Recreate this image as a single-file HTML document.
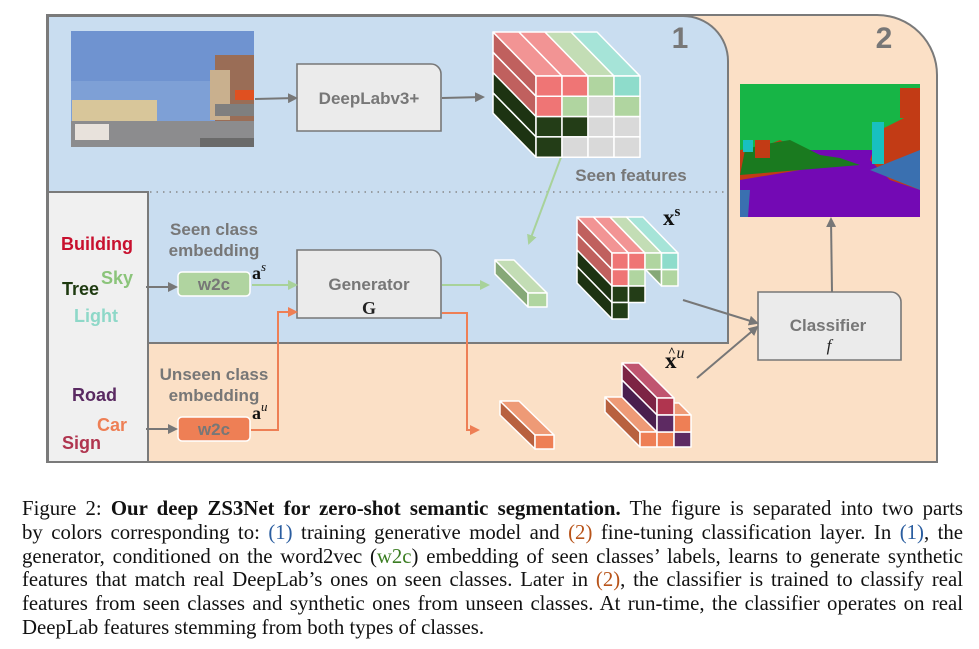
<!DOCTYPE html>
<html><head><meta charset="utf-8">
<style>
html,body{margin:0;padding:0;background:#fff;width:979px;height:649px;overflow:hidden}
#d{position:absolute;left:0;top:0}
.cap{position:absolute;left:22px;top:497px;width:941px;font-family:"Liberation Serif",serif;font-size:20.8px;color:#111;line-height:23.8px}
.cap div{text-align:justify;text-align-last:justify;white-space:nowrap;height:23.8px}
.cap div.last{text-align-last:left}
.b1{color:#2a5d9f}.b2{color:#b8541a}.g{color:#3b7d22}
</style></head><body>
<svg id="d" width="979" height="480" xmlns="http://www.w3.org/2000/svg" font-family="Liberation Sans, sans-serif">
<path d="M47,15 H877 A60,60 0 0 1 937,75 V462 H47 Z" fill="#fbe0c6" stroke="#7a7a7a" stroke-width="2"/>
<path d="M48,16 H683 A45,45 0 0 1 728,61 V343 H148 V192 H48 Z" fill="#c9ddf0" stroke="#7a7a7a" stroke-width="2"/>
<rect x="48" y="192" width="100" height="270" fill="#f0f0f0" stroke="#7a7a7a" stroke-width="2"/>
<line x1="150" y1="192" x2="727" y2="192" stroke="#888" stroke-width="1.6" stroke-dasharray="1.5,5"/>
<text x="680" y="48" font-size="30" font-weight="bold" fill="#777" text-anchor="middle">1</text>
<text x="884" y="48" font-size="30" font-weight="bold" fill="#777" text-anchor="middle">2</text>
<g>
<rect x="71" y="31" width="183" height="116" fill="#7ea0d6"/>
<rect x="71" y="31" width="183" height="50" fill="#6f93d0"/>
<rect x="72" y="100" width="85" height="22" fill="#d8c69a"/>
<rect x="215" y="55" width="39" height="72" fill="#9a6d56"/>
<rect x="210" y="70" width="20" height="50" fill="#c9b08e"/>
<rect x="235" y="90" width="19" height="10" fill="#e05020"/>
<rect x="215" y="104" width="39" height="12" fill="#7f7f7f"/>
<rect x="71" y="121" width="183" height="26" fill="#8c8c8e"/>
<rect x="75" y="124" width="34" height="16" fill="#e8e2dc"/>
<rect x="200" y="138" width="54" height="9" fill="#6a6a6a"/>
</g>
<g>
<rect x="740" y="84" width="180" height="133" fill="#17b546"/>
<rect x="740" y="150" width="180" height="67" fill="#7309b4"/>
<polygon points="740,150 760,148 780,140 800,150 800,170 740,180" fill="#c23b15"/>
<polygon points="745,150 760,145 790,140 820,155 840,158 860,165 740,175" fill="#1a7a1f"/>
<rect x="755" y="140" width="15" height="18" fill="#c23b15"/>
<polygon points="880,130 920,110 920,190 890,180 870,160" fill="#c23b15"/>
<rect x="900" y="88" width="20" height="30" fill="#c23b15"/>
<rect x="872" y="122" width="12" height="42" fill="#18c0c0"/>
<rect x="743" y="140" width="10" height="12" fill="#18c0c0"/>
<polygon points="870,170 920,150 920,190" fill="#3a70b0"/>
<polygon points="740,190 750,190 748,217 740,217" fill="#3a70b0"/>
</g>
<path d="M297,64 H431 A10,10 0 0 1 441,74 V131 H297 Z" fill="#ebebeb" stroke="#777" stroke-width="1.6"/>
<text x="369" y="104" font-size="17" font-weight="bold" fill="#777" text-anchor="middle">DeepLabv3+</text>
<path d="M297,250 H431 A10,10 0 0 1 441,260 V318 H297 Z" fill="#ebebeb" stroke="#777" stroke-width="1.6"/>
<text x="369" y="290" font-size="17" font-weight="bold" fill="#777" text-anchor="middle">Generator</text>
<text x="369" y="314" font-size="18" font-weight="bold" fill="#222" text-anchor="middle" font-family="Liberation Serif, serif">G</text>
<path d="M758,292 H891 A10,10 0 0 1 901,302 V360 H758 Z" fill="#ebebeb" stroke="#777" stroke-width="1.6"/>
<text x="828" y="331" font-size="17" font-weight="bold" fill="#777" text-anchor="middle">Classifier</text>
<text x="829" y="351" font-size="17" font-style="italic" fill="#222" text-anchor="middle" font-family="Liberation Serif, serif">f</text>
<rect x="178" y="272" width="72" height="24" rx="4" fill="#b0d4a0" stroke="#fff" stroke-width="1.5"/>
<text x="214" y="290" font-size="17" font-weight="bold" fill="#777" text-anchor="middle">w2c</text>
<rect x="178" y="417" width="72" height="24" rx="4" fill="#ee7f55" stroke="#fff" stroke-width="1.5"/>
<text x="214" y="435" font-size="17" font-weight="bold" fill="#777" text-anchor="middle">w2c</text>
<g font-size="17" font-weight="bold" fill="#777" text-anchor="middle">
<text x="214" y="235">Seen class</text><text x="214" y="256">embedding</text>
<text x="214" y="380">Unseen class</text><text x="214" y="401">embedding</text>
<text x="631" y="181">Seen features</text>
</g>
<g font-size="18" font-weight="bold">
<text x="61" y="250" fill="#c8102e">Building</text>
<text x="62" y="295" fill="#1e3a10">Tree</text>
<text x="101" y="284" fill="#8bc47a">Sky</text>
<text x="74" y="322" fill="#8ed8c8">Light</text>
<text x="72" y="401" fill="#5a2a62">Road</text>
<text x="97" y="431" fill="#ee7f55">Car</text>
<text x="62" y="449" fill="#b0354f">Sign</text>
</g>
<g font-family="Liberation Serif, serif" font-weight="bold" fill="#111">
<text x="252" y="279" font-size="18">a<tspan font-size="13" font-style="italic" font-weight="normal" dy="-8">s</tspan></text>
<text x="252" y="419" font-size="18">a<tspan font-size="13" font-style="italic" font-weight="normal" dy="-8">u</tspan></text>
<text x="663" y="225" font-size="23">x<tspan font-size="15" dy="-9">s</tspan></text>
<text x="665" y="368" font-size="23">x<tspan font-size="16" font-style="italic" font-weight="normal" dy="-10">u</tspan></text>
<text x="668" y="356" font-size="13">^</text>
</g>
<defs>
<marker id="ag" markerWidth="10" markerHeight="10" refX="8" refY="5" orient="auto" markerUnits="userSpaceOnUse"><path d="M0,0 L10,5 L0,10 Z" fill="#777"/></marker>
<marker id="agr" markerWidth="10" markerHeight="10" refX="8" refY="5" orient="auto" markerUnits="userSpaceOnUse"><path d="M0,0 L10,5 L0,10 Z" fill="#a8d29a"/></marker>
<marker id="aor" markerWidth="10" markerHeight="10" refX="8" refY="5" orient="auto" markerUnits="userSpaceOnUse"><path d="M0,0 L10,5 L0,10 Z" fill="#ee7f55"/></marker>
</defs>
<g fill="none" stroke-width="2">
<line x1="255" y1="99" x2="296" y2="98" stroke="#777" marker-end="url(#ag)"/>
<line x1="442" y1="98" x2="483" y2="97" stroke="#777" marker-end="url(#ag)"/>
<line x1="576" y1="117" x2="529" y2="243" stroke="#a8d29a" marker-end="url(#agr)"/>
<line x1="146" y1="287" x2="176" y2="287" stroke="#777" marker-end="url(#ag)"/>
<line x1="252" y1="285" x2="296" y2="285" stroke="#a8d29a" marker-end="url(#agr)"/>
<line x1="442" y1="285" x2="488" y2="285" stroke="#a8d29a" marker-end="url(#agr)"/>
<line x1="146" y1="429" x2="176" y2="429" stroke="#777" marker-end="url(#ag)"/>
<polyline points="251,430 278,430 278,312 296,312" stroke="#ee7f55" marker-end="url(#aor)"/>
<polyline points="442,313 467,313 467,430 478,430" stroke="#ee7f55" marker-end="url(#aor)"/>
<line x1="683" y1="300" x2="757" y2="323" stroke="#777" marker-end="url(#ag)"/>
<line x1="697" y1="378" x2="757" y2="327" stroke="#777" marker-end="url(#ag)"/>
<line x1="832" y1="292" x2="831" y2="219" stroke="#777" marker-end="url(#ag)"/>
</g>
<g id="cubes" stroke="#fff" stroke-width="1.5" stroke-linejoin="round"></g>
</svg>
<div class="cap">
<div>Figure 2: <b>Our deep ZS3Net for zero-shot semantic segmentation.</b> The figure is separated into two parts</div>
<div>by colors corresponding to: <span class="b1">(1)</span> training generative model and <span class="b2">(2)</span> fine-tuning classification layer. In <span class="b1">(1)</span>, the</div>
<div>generator, conditioned on the word2vec (<span class="g">w2c</span>) embedding of seen classes’ labels, learns to generate synthetic</div>
<div>features that match real DeepLab’s ones on seen classes. Later in <span class="b2">(2)</span>, the classifier is trained to classify real</div>
<div>features from seen classes and synthetic ones from unseen classes. At run-time, the classifier operates on real</div>
<div class="last">DeepLab features stemming from both types of classes.</div>
</div>
<script>
var G=document.getElementById('cubes'),NS='http://www.w3.org/2000/svg';
function poly(p,c){var e=document.createElementNS(NS,'polygon');e.setAttribute('points',p.map(function(a){return a.join(',')}).join(' '));e.setAttribute('fill',c);G.appendChild(e);}
function cube(x0,y0,w,h,dx,dy,cells){
 cells.forEach(function(c){var x=x0+c[0]*w,y=y0+c[1]*h;
  if(c[4])poly([[x,y],[x,y+h],[x+dx,y+h+dy],[x+dx,y+dy]],c[4]);});
 cells.forEach(function(c){var x=x0+c[0]*w,y=y0+c[1]*h;
  if(c[3])poly([[x,y],[x+w,y],[x+w+dx,y+dy],[x+dx,y+dy]],c[3]);});
 cells.forEach(function(c){var x=x0+c[0]*w,y=y0+c[1]*h;
  poly([[x,y],[x+w,y],[x+w,y+h],[x,y+h]],c[2]);});
}
var R='#ef7575',Gr='#b0d5a0',T='#8edccb',D='#233d17',Gy='#d9d9d9',RT='#f29494',GT='#c3ddb5',TT='#a6e4d8',RL='#c0605e',DL='#1d3312';
cube(536,76,26,20.3,-43,-44,[
[0,0,R,RT,RL],[1,0,R,RT],[2,0,Gr,GT],[3,0,T,TT],
[0,1,R,0,RL],[1,1,Gr],[2,1,Gy],[3,1,Gr],
[0,2,D,0,DL],[1,2,D],[2,2,Gy],[3,2,Gy],
[0,3,D,0,DL],[1,3,Gy],[2,3,Gy],[3,3,Gy]]);
cube(612,253,16.5,16.5,-35,-36,[
[3,1,Gr,0,'#86a877'],
[0,0,R,RT,RL],[1,0,R,RT],[2,0,Gr,GT],[3,0,T,TT],
[0,1,R,0,RL],[1,1,Gr],
[0,2,D,0,DL],[1,2,D],
[0,3,D,0,DL]]);
cube(528,293,19,14,-33,-33,[[0,0,Gr,GT,'#86a877']]);
cube(535,435,19,14,-35,-34,[[0,0,'#ee7f55','#ee9a76','#b8613f']]);
cube(640,432,17,15,-35,-35,[[0,0,'#ee7f55','#ee9a76','#b8613f'],[1,0,'#ee7f55','#ee9a76'],[2,0,'#5d2a62','#ee9a76']]);
cube(674,415,17,17,-12,-12,[[0,0,'#ee7f55','#ee9a76']]);
cube(657,398,17,17,-35,-35,[[0,0,'#b0354f','#c05570','#7d2444'],[0,1,'#5d2a62',0,'#4a1f4e']]);
</script>
</body></html>
